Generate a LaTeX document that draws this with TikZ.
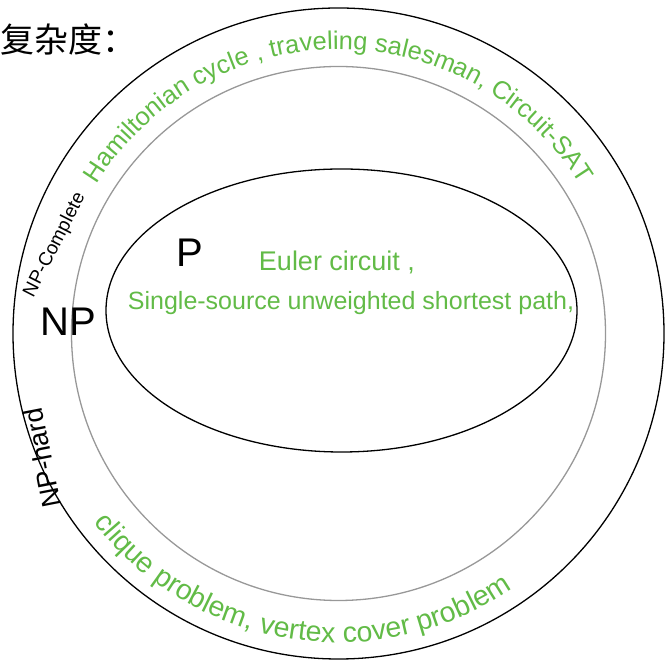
\documentclass[tikz,border=0pt]{standalone}
\usepackage{fontspec}
\setmainfont{Liberation Sans}
\newfontfamily\cjkfont{Noto Sans CJK SC}
\usetikzlibrary{shapes.geometric,decorations.text}
\definecolor{hwgreen}{RGB}{98,187,71}
\definecolor{setgray}{RGB}{152,152,152}
\newcommand{\hwsize}[1]{\fontsize{#1}{#1}\selectfont}
\begin{document}
\begin{tikzpicture}[
    x=1pt, y=1pt,
    set/.style={draw, line width=1.3pt, inner sep=0, outer sep=0},
    big/.style={inner sep=0, font=\hwsize{40}},
    tag/.style={inner sep=0, font=\hwsize{19}},
    example/.style={inner sep=0, text=hwgreen, font=\hwsize{25}}
  ]
  \useasboundingbox (0,0) rectangle (669,666);
  \coordinate (c) at (338.5,332.5);
  % the three classes
  \node[set, circle, minimum size=651] (nphard) at (c) {};
  \node[set, circle, draw=setgray, minimum size=534] (np) at (c) {};
  \node[set, ellipse, minimum width=471, minimum height=283] (p) at (341.5,355.5) {};
  % class names
  \node[inner sep=0, anchor=west, font=\cjkfont\hwsize{34}] (title) at (0,626) {复杂度：};
  \node[big] (np label) at (68,344) {NP};
  \node[big] (p label) at (190,413) {P};
  \node[tag, rotate=63] (npc label) at (55,421) {NP-Complete};
  \node[tag, rotate=101, font=\hwsize{27}] (nph label) at (42,208) {NP-hard};
  % problems in P
  \node[example, font=\hwsize{27}] (euler) at (337,404) {Euler circuit ,};
  \node[example] (sssp) at (351,363) {Single-source unweighted shortest path,};
  % problems round the rim
  \path[decorate, decoration={text along path, text align=center,
      text={|\hwsize{25.5}\color{hwgreen}|Hamiltonian cycle , traveling salesman, Circuit-SAT}}]
    ([shift={(150:284)}]c) arc[start angle=150, end angle=30, radius=284];
  \path[decorate, decoration={text along path, text align=center,
      text={|\hwsize{28.5}\color{hwgreen}|clique problem,  vertex cover problem}}]
    ([shift={(214:309)}]c) arc[start angle=214, end angle=308, radius=309];
\end{tikzpicture}
\end{document}
